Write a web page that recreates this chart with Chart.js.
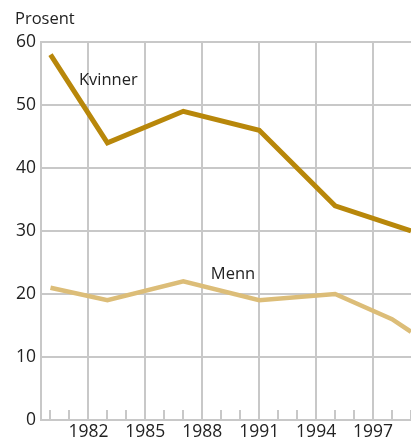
<!DOCTYPE html>
<html>
<head>
<meta charset="utf-8">
<script src="https://cdn.jsdelivr.net/npm/chart.js@4/dist/chart.umd.min.js"></script>
<style>
  html, body { margin: 0; padding: 0; background: #fff; }
  #wrap { position: relative; width: 411px; height: 439px; }
  #title { position: absolute; left: 15px; top: 6px; font: 16.5px "Open Sans", sans-serif; color: #222; }
</style>
</head>
<body>
<div id="wrap">
  <div id="title">Prosent</div>
  <canvas id="chart" width="411" height="439"></canvas>
</div>
<script>
var kvinnerYears = [1980, 1983, 1987, 1991, 1995, 1999];
var kvinner = [58, 44, 49, 46, 34, 30];
var mennYears = [1980, 1983, 1987, 1991, 1995, 1998, 1999];
var menn = [21, 19, 22, 19, 20, 16, 14];
var yTicks = [0, 10, 20, 30, 40, 50, 60];
var xLabels = [1982, 1985, 1988, 1991, 1994, 1997];

function toPoints(xs, ys) {
    return xs.map(function (x, i) { return { x: x, y: ys[i] }; });
}

// small inner ticks on the x axis, one per year, plus the series labels
var yearTicks = {
    id: 'yearTicks',
    afterDraw: function (chart) {
        var ctx = chart.ctx, x = chart.scales.x, y = chart.scales.y;
        ctx.save();
        ctx.strokeStyle = '#c8c8c8';
        ctx.lineWidth = 2;
        for (var yr = 1980; yr <= 1999; yr++) {
            var px = Math.round(x.getPixelForValue(yr));
            ctx.beginPath();
            ctx.moveTo(px, y.bottom);
            ctx.lineTo(px, y.bottom - 10);
            ctx.stroke();
        }
        ctx.fillStyle = '#222';
        ctx.font = '16.5px "Open Sans", sans-serif';
        ctx.textBaseline = 'middle';
        ctx.fillText('Kvinner', x.getPixelForValue(1981.5), y.getPixelForValue(54));
        ctx.fillText('Menn', x.getPixelForValue(1988.45), y.getPixelForValue(23.2));
        ctx.restore();
    }
};

new Chart(document.getElementById('chart'), {
    type: 'line',
    data: {
        datasets: [
            {
                label: 'Kvinner',
                data: toPoints(kvinnerYears, kvinner),
                borderColor: '#b8870a',
                borderWidth: 5,
                pointRadius: 0,
                tension: 0
            },
            {
                label: 'Menn',
                data: toPoints(mennYears, menn),
                borderColor: '#dcbd78',
                borderWidth: 4.5,
                pointRadius: 0,
                tension: 0
            }
        ]
    },
    options: {
        responsive: false,
        animation: false,
        layout: { padding: { top: 42, right: 0, left: 0, bottom: 0 } },
        plugins: { legend: { display: false }, tooltip: { enabled: false } },
        scales: {
            x: {
                type: 'linear',
                min: 1979.5,
                max: 1999,
                afterBuildTicks: function (scale) {
                    scale.ticks = xLabels.map(function (v) { return { value: v }; });
                },
                afterFit: function (scale) { scale.height = 19; },
                grid: { color: '#c8c8c8', lineWidth: 2, drawTicks: false },
                border: { color: '#c8c8c8', width: 2 },
                ticks: {
                    color: '#222',
                    font: { family: 'Open Sans', size: 17.5 },
                    padding: 2,
                    maxRotation: 0,
                    autoSkip: false,
                    callback: function (v) { return String(v); }
                }
            },
            y: {
                min: 0,
                max: 60,
                afterBuildTicks: function (scale) {
                    scale.ticks = yTicks.map(function (v) { return { value: v }; });
                },
                afterFit: function (scale) { scale.width = 41; },
                grid: { color: '#c8c8c8', lineWidth: 2, drawTicks: false },
                border: { color: '#c8c8c8', width: 2 },
                ticks: {
                    color: '#222',
                    font: { family: 'Open Sans', size: 17.5 },
                    padding: 5
                }
            }
        }
    },
    plugins: [yearTicks]
});
</script>
</body>
</html>
